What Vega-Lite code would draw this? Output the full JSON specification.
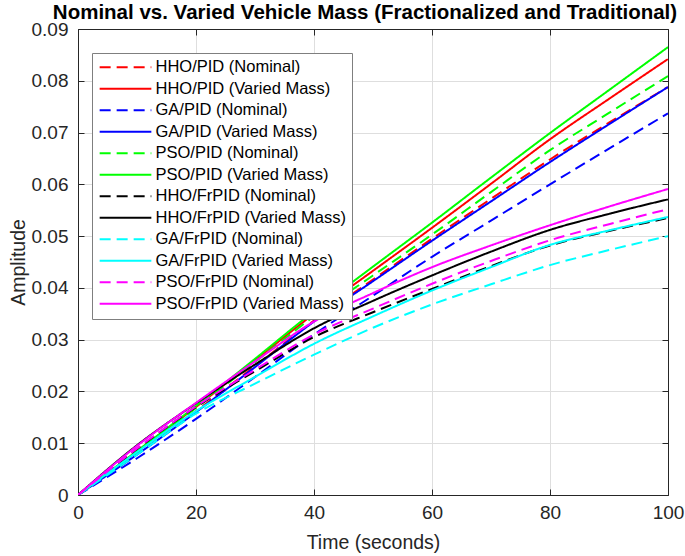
{
  "$schema": "https://vega.github.io/schema/vega-lite/v6.json",
  "width": 590,
  "height": 466,
  "autosize": {"type": "none"},
  "padding": {"left": 78, "top": 29, "right": 17, "bottom": 61},
  "background": "white",
  "config": {
    "font": "Liberation Sans",
    "view": {"stroke": null},
    "axis": {
      "domainColor": "#262626",
      "tickColor": "#262626",
      "labelColor": "#262626",
      "titleColor": "#262626",
      "gridColor": "#dedede",
      "labelFontSize": 19,
      "titleFontSize": 19.5,
      "titleFontWeight": "normal",
      "tickSize": -6,
      "tickWidth": 1,
      "domainWidth": 1
    }
  },
  "title": {
    "text": "Nominal vs. Varied Vehicle Mass (Fractionalized and Traditional)",
    "fontSize": 20.5,
    "fontWeight": "bold",
    "color": "#000000",
    "anchor": "middle",
    "offset": 3,
    "dy": 6,
    "dx": -8
  },
  "data": {
    "values": [
      {"t": 0, "s": "HHO/PID (Nominal)", "v": 0}, {"t": 10, "s": "HHO/PID (Nominal)", "v": 0.0079}, {"t": 20, "s": "HHO/PID (Nominal)", "v": 0.0162}, {"t": 30, "s": "HHO/PID (Nominal)", "v": 0.0249}, {"t": 40, "s": "HHO/PID (Nominal)", "v": 0.0337}, {"t": 50, "s": "HHO/PID (Nominal)", "v": 0.0416}, {"t": 60, "s": "HHO/PID (Nominal)", "v": 0.0495}, {"t": 70, "s": "HHO/PID (Nominal)", "v": 0.0572}, {"t": 80, "s": "HHO/PID (Nominal)", "v": 0.0648}, {"t": 90, "s": "HHO/PID (Nominal)", "v": 0.0719}, {"t": 100, "s": "HHO/PID (Nominal)", "v": 0.0788},
      {"t": 0, "s": "HHO/PID (Varied Mass)", "v": 0}, {"t": 10, "s": "HHO/PID (Varied Mass)", "v": 0.0084}, {"t": 20, "s": "HHO/PID (Varied Mass)", "v": 0.0170}, {"t": 30, "s": "HHO/PID (Varied Mass)", "v": 0.0260}, {"t": 40, "s": "HHO/PID (Varied Mass)", "v": 0.0350}, {"t": 50, "s": "HHO/PID (Varied Mass)", "v": 0.0433}, {"t": 60, "s": "HHO/PID (Varied Mass)", "v": 0.0516}, {"t": 70, "s": "HHO/PID (Varied Mass)", "v": 0.0601}, {"t": 80, "s": "HHO/PID (Varied Mass)", "v": 0.0687}, {"t": 90, "s": "HHO/PID (Varied Mass)", "v": 0.0765}, {"t": 100, "s": "HHO/PID (Varied Mass)", "v": 0.0842},
      {"t": 0, "s": "GA/PID (Nominal)", "v": 0}, {"t": 10, "s": "GA/PID (Nominal)", "v": 0.0071}, {"t": 20, "s": "GA/PID (Nominal)", "v": 0.0147}, {"t": 30, "s": "GA/PID (Nominal)", "v": 0.0228}, {"t": 40, "s": "GA/PID (Nominal)", "v": 0.0310}, {"t": 50, "s": "GA/PID (Nominal)", "v": 0.0385}, {"t": 60, "s": "GA/PID (Nominal)", "v": 0.0460}, {"t": 70, "s": "GA/PID (Nominal)", "v": 0.0530}, {"t": 80, "s": "GA/PID (Nominal)", "v": 0.0600}, {"t": 90, "s": "GA/PID (Nominal)", "v": 0.0669}, {"t": 100, "s": "GA/PID (Nominal)", "v": 0.0737},
      {"t": 0, "s": "GA/PID (Varied Mass)", "v": 0}, {"t": 10, "s": "GA/PID (Varied Mass)", "v": 0.0078}, {"t": 20, "s": "GA/PID (Varied Mass)", "v": 0.0160}, {"t": 30, "s": "GA/PID (Varied Mass)", "v": 0.0247}, {"t": 40, "s": "GA/PID (Varied Mass)", "v": 0.0335}, {"t": 50, "s": "GA/PID (Varied Mass)", "v": 0.0413}, {"t": 60, "s": "GA/PID (Varied Mass)", "v": 0.0491}, {"t": 70, "s": "GA/PID (Varied Mass)", "v": 0.0567}, {"t": 80, "s": "GA/PID (Varied Mass)", "v": 0.0643}, {"t": 90, "s": "GA/PID (Varied Mass)", "v": 0.0716}, {"t": 100, "s": "GA/PID (Varied Mass)", "v": 0.0788},
      {"t": 0, "s": "PSO/PID (Nominal)", "v": 0}, {"t": 10, "s": "PSO/PID (Nominal)", "v": 0.0083}, {"t": 20, "s": "PSO/PID (Nominal)", "v": 0.0168}, {"t": 30, "s": "PSO/PID (Nominal)", "v": 0.0257}, {"t": 40, "s": "PSO/PID (Nominal)", "v": 0.0345}, {"t": 50, "s": "PSO/PID (Nominal)", "v": 0.0424}, {"t": 60, "s": "PSO/PID (Nominal)", "v": 0.0503}, {"t": 70, "s": "PSO/PID (Nominal)", "v": 0.0585}, {"t": 80, "s": "PSO/PID (Nominal)", "v": 0.0666}, {"t": 90, "s": "PSO/PID (Nominal)", "v": 0.0738}, {"t": 100, "s": "PSO/PID (Nominal)", "v": 0.0809},
      {"t": 0, "s": "PSO/PID (Varied Mass)", "v": 0}, {"t": 10, "s": "PSO/PID (Varied Mass)", "v": 0.0085}, {"t": 20, "s": "PSO/PID (Varied Mass)", "v": 0.0172}, {"t": 30, "s": "PSO/PID (Varied Mass)", "v": 0.0263}, {"t": 40, "s": "PSO/PID (Varied Mass)", "v": 0.0355}, {"t": 50, "s": "PSO/PID (Varied Mass)", "v": 0.0441}, {"t": 60, "s": "PSO/PID (Varied Mass)", "v": 0.0526}, {"t": 70, "s": "PSO/PID (Varied Mass)", "v": 0.0613}, {"t": 80, "s": "PSO/PID (Varied Mass)", "v": 0.0699}, {"t": 90, "s": "PSO/PID (Varied Mass)", "v": 0.0782}, {"t": 100, "s": "PSO/PID (Varied Mass)", "v": 0.0865},
      {"t": 0, "s": "HHO/FrPID (Nominal)", "v": 0}, {"t": 10, "s": "HHO/FrPID (Nominal)", "v": 0.0089}, {"t": 20, "s": "HHO/FrPID (Nominal)", "v": 0.0170}, {"t": 30, "s": "HHO/FrPID (Nominal)", "v": 0.0239}, {"t": 40, "s": "HHO/FrPID (Nominal)", "v": 0.0305}, {"t": 50, "s": "HHO/FrPID (Nominal)", "v": 0.0353}, {"t": 60, "s": "HHO/FrPID (Nominal)", "v": 0.0398}, {"t": 70, "s": "HHO/FrPID (Nominal)", "v": 0.0442}, {"t": 80, "s": "HHO/FrPID (Nominal)", "v": 0.0482}, {"t": 90, "s": "HHO/FrPID (Nominal)", "v": 0.0510}, {"t": 100, "s": "HHO/FrPID (Nominal)", "v": 0.0535},
      {"t": 0, "s": "HHO/FrPID (Varied Mass)", "v": 0}, {"t": 10, "s": "HHO/FrPID (Varied Mass)", "v": 0.0096}, {"t": 20, "s": "HHO/FrPID (Varied Mass)", "v": 0.0177}, {"t": 30, "s": "HHO/FrPID (Varied Mass)", "v": 0.0252}, {"t": 40, "s": "HHO/FrPID (Varied Mass)", "v": 0.0322}, {"t": 50, "s": "HHO/FrPID (Varied Mass)", "v": 0.0375}, {"t": 60, "s": "HHO/FrPID (Varied Mass)", "v": 0.0424}, {"t": 70, "s": "HHO/FrPID (Varied Mass)", "v": 0.0470}, {"t": 80, "s": "HHO/FrPID (Varied Mass)", "v": 0.0512}, {"t": 90, "s": "HHO/FrPID (Varied Mass)", "v": 0.0543}, {"t": 100, "s": "HHO/FrPID (Varied Mass)", "v": 0.0571},
      {"t": 0, "s": "GA/FrPID (Nominal)", "v": 0}, {"t": 10, "s": "GA/FrPID (Nominal)", "v": 0.0078}, {"t": 20, "s": "GA/FrPID (Nominal)", "v": 0.0157}, {"t": 30, "s": "GA/FrPID (Nominal)", "v": 0.0215}, {"t": 40, "s": "GA/FrPID (Nominal)", "v": 0.0271}, {"t": 50, "s": "GA/FrPID (Nominal)", "v": 0.0323}, {"t": 60, "s": "GA/FrPID (Nominal)", "v": 0.0368}, {"t": 70, "s": "GA/FrPID (Nominal)", "v": 0.0407}, {"t": 80, "s": "GA/FrPID (Nominal)", "v": 0.0444}, {"t": 90, "s": "GA/FrPID (Nominal)", "v": 0.0473}, {"t": 100, "s": "GA/FrPID (Nominal)", "v": 0.0500},
      {"t": 0, "s": "GA/FrPID (Varied Mass)", "v": 0}, {"t": 10, "s": "GA/FrPID (Varied Mass)", "v": 0.0083}, {"t": 20, "s": "GA/FrPID (Varied Mass)", "v": 0.0162}, {"t": 30, "s": "GA/FrPID (Varied Mass)", "v": 0.0228}, {"t": 40, "s": "GA/FrPID (Varied Mass)", "v": 0.0292}, {"t": 50, "s": "GA/FrPID (Varied Mass)", "v": 0.0345}, {"t": 60, "s": "GA/FrPID (Varied Mass)", "v": 0.0395}, {"t": 70, "s": "GA/FrPID (Varied Mass)", "v": 0.0440}, {"t": 80, "s": "GA/FrPID (Varied Mass)", "v": 0.0483}, {"t": 90, "s": "GA/FrPID (Varied Mass)", "v": 0.0511}, {"t": 100, "s": "GA/FrPID (Varied Mass)", "v": 0.0537},
      {"t": 0, "s": "PSO/FrPID (Nominal)", "v": 0}, {"t": 10, "s": "PSO/FrPID (Nominal)", "v": 0.0090}, {"t": 20, "s": "PSO/FrPID (Nominal)", "v": 0.0171}, {"t": 30, "s": "PSO/FrPID (Nominal)", "v": 0.0242}, {"t": 40, "s": "PSO/FrPID (Nominal)", "v": 0.0310}, {"t": 50, "s": "PSO/FrPID (Nominal)", "v": 0.0360}, {"t": 60, "s": "PSO/FrPID (Nominal)", "v": 0.0408}, {"t": 70, "s": "PSO/FrPID (Nominal)", "v": 0.0452}, {"t": 80, "s": "PSO/FrPID (Nominal)", "v": 0.0492}, {"t": 90, "s": "PSO/FrPID (Nominal)", "v": 0.0523}, {"t": 100, "s": "PSO/FrPID (Nominal)", "v": 0.0552},
      {"t": 0, "s": "PSO/FrPID (Varied Mass)", "v": 0}, {"t": 10, "s": "PSO/FrPID (Varied Mass)", "v": 0.0095}, {"t": 20, "s": "PSO/FrPID (Varied Mass)", "v": 0.0178}, {"t": 30, "s": "PSO/FrPID (Varied Mass)", "v": 0.0258}, {"t": 40, "s": "PSO/FrPID (Varied Mass)", "v": 0.0335}, {"t": 50, "s": "PSO/FrPID (Varied Mass)", "v": 0.0390}, {"t": 60, "s": "PSO/FrPID (Varied Mass)", "v": 0.0440}, {"t": 70, "s": "PSO/FrPID (Varied Mass)", "v": 0.0482}, {"t": 80, "s": "PSO/FrPID (Varied Mass)", "v": 0.0521}, {"t": 90, "s": "PSO/FrPID (Varied Mass)", "v": 0.0557}, {"t": 100, "s": "PSO/FrPID (Varied Mass)", "v": 0.0591}
    ]
  },
  "resolve": {"axis": {"x": "independent", "y": "independent"}},
  "layer": [
    {
      "mark": {"type": "line", "strokeWidth": 2, "interpolate": "monotone", "clip": true},
      "encoding": {
        "x": {
          "field": "t", "type": "quantitative",
          "scale": {"domain": [0, 100], "nice": false},
          "axis": {"orient": "bottom", "title": "Time (seconds)", "values": [0, 20, 40, 60, 80, 100], "grid": true, "labelPadding": 14, "titlePadding": 11, "labelFlush": false}
        },
        "y": {
          "field": "v", "type": "quantitative",
          "scale": {"domain": [0, 0.09], "nice": false, "zero": true},
          "axis": {"orient": "left", "title": "Amplitude", "values": [0, 0.01, 0.02, 0.03, 0.04, 0.05, 0.06, 0.07, 0.08, 0.09], "format": ".2~f", "grid": true, "labelPadding": 16, "titlePadding": 3, "labelFlush": false}
        },
        "color": {
          "field": "s", "type": "nominal",
          "scale": {
            "domain": ["HHO/PID (Nominal)", "HHO/PID (Varied Mass)", "GA/PID (Nominal)", "GA/PID (Varied Mass)", "PSO/PID (Nominal)", "PSO/PID (Varied Mass)", "HHO/FrPID (Nominal)", "HHO/FrPID (Varied Mass)", "GA/FrPID (Nominal)", "GA/FrPID (Varied Mass)", "PSO/FrPID (Nominal)", "PSO/FrPID (Varied Mass)"],
            "range": ["#ff0000", "#ff0000", "#0000ff", "#0000ff", "#00ff00", "#00ff00", "#000000", "#000000", "#00ffff", "#00ffff", "#ff00ff", "#ff00ff"]
          },
          "legend": {
            "orient": "none", "legendX": 14, "legendY": 24, "title": null,
            "padding": 6, "strokeColor": "#7f7f7f", "fillColor": "white",
            "symbolType": "M-1.2,0H8.2", "symbolSize": 121, "symbolStrokeWidth": 2, "symbolFillColor": "transparent",
            "labelFontSize": 16.5, "labelColor": "#000000", "labelLimit": 0, "labelOffset": 41,
            "rowPadding": 4.5
          }
        },
        "strokeDash": {
          "field": "s", "type": "nominal",
          "scale": {
            "domain": ["HHO/PID (Nominal)", "HHO/PID (Varied Mass)", "GA/PID (Nominal)", "GA/PID (Varied Mass)", "PSO/PID (Nominal)", "PSO/PID (Varied Mass)", "HHO/FrPID (Nominal)", "HHO/FrPID (Varied Mass)", "GA/FrPID (Nominal)", "GA/FrPID (Varied Mass)", "PSO/FrPID (Nominal)", "PSO/FrPID (Varied Mass)"],
            "range": [[11, 6], [1, 0], [11, 6], [1, 0], [11, 6], [1, 0], [11, 6], [1, 0], [11, 6], [1, 0], [11, 6], [1, 0]]
          }
        }
      }
    },
    {
      "mark": {"type": "line", "strokeOpacity": 0},
      "encoding": {
        "x": {"field": "t", "type": "quantitative", "axis": {"orient": "top", "title": null, "labels": false, "grid": false, "values": [0, 20, 40, 60, 80, 100]}},
        "y": {"field": "v", "type": "quantitative", "axis": {"orient": "right", "title": null, "labels": false, "grid": false, "values": [0, 0.01, 0.02, 0.03, 0.04, 0.05, 0.06, 0.07, 0.08, 0.09]}},
        "detail": {"field": "s"}
      }
    }
  ]
}
